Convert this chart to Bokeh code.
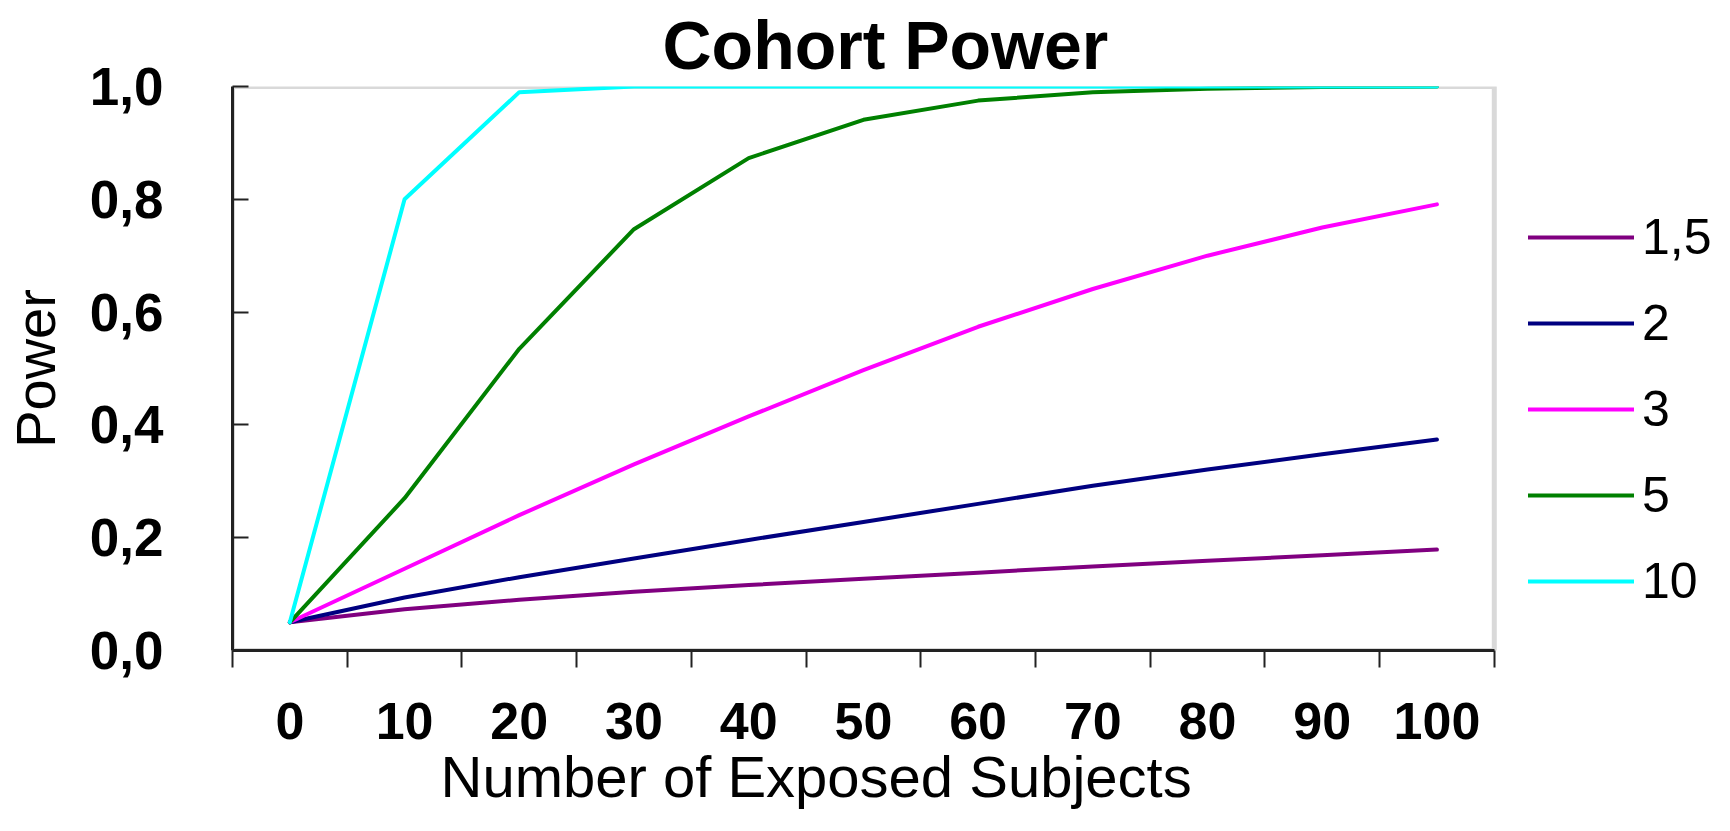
from bokeh.plotting import figure
from bokeh.models import (FixedTicker, CustomJSTickFormatter, Legend, LegendItem,
                          Title, Range1d, BoxAnnotation)
from bokeh.embed import file_html
from bokeh.resources import INLINE

# ---- data ----
subjects = [0, 10, 20, 30, 40, 50, 60, 70, 80, 90, 100]
tick_labels = ["0", "10", "20", "30", "40", "50", "60", "70", "80", "90", "100"]
series_names = ["1,5", "2", "3", "5", "10"]
power_rr_1_5 = [0.05, 0.073, 0.090, 0.104, 0.116, 0.127, 0.138, 0.149, 0.159, 0.169, 0.179]
power_rr_2 = [0.05, 0.094, 0.130, 0.163, 0.196, 0.228, 0.260, 0.292, 0.321, 0.348, 0.374]
power_rr_3 = [0.05, 0.145, 0.240, 0.330, 0.415, 0.497, 0.574, 0.641, 0.700, 0.750, 0.791]
power_rr_5 = [0.05, 0.270, 0.535, 0.747, 0.873, 0.941, 0.975, 0.990, 0.996, 0.999, 1.0]
power_rr_10 = [0.05, 0.800, 0.990, 1.0, 1.0, 1.0, 1.0, 1.0, 1.0, 1.0, 1.0]
series_values = [power_rr_1_5, power_rr_2, power_rr_3, power_rr_5, power_rr_10]
colors = ["#800080", "#000080", "#FF00FF", "#008000", "#00FFFF"]

FONT = "Liberation Sans"

# layout: the plot area (categories) takes PLOT_PX of the frame, the rest of
# the frame, on the right, holds the legend
W, H = 1714, 815
LEFT = 220
PLOT_PX = 1272
FRAME_PX = W - LEFT
x_start = subjects[0] - 5
x_stop = subjects[-1] + 5
x_end = x_start + (x_stop - x_start) * FRAME_PX / PLOT_PX

p = figure(width=W, height=H, output_backend="svg", toolbar_location=None,
           x_range=Range1d(x_start, x_end), y_range=Range1d(0, 1),
           min_border_left=LEFT, min_border_right=0, min_border_top=84,
           min_border_bottom=165, background_fill_color="white",
           border_fill_color="white")

p.title.text = "Cohort Power"
p.title.align = "left"
p.title.offset = 430
p.title.text_font = FONT
p.title.text_font_size = "68px"
p.title.text_font_style = "bold"
p.title.text_color = "black"
p.title.standoff = 8

p.outline_line_color = None
p.xgrid.visible = False
p.ygrid.visible = False

# gray border of the plot area (top and right sides show)
p.add_layout(BoxAnnotation(left=x_start, right=x_stop, bottom=0, top=1,
                           fill_alpha=0, line_color="#808080", line_width=5,
                           level="underlay"))

# x axis: labels at category centres, tick marks at category boundaries
boundaries = [s - 5 for s in subjects] + [subjects[-1] + 5]
xa = p.xaxis[0]
xa.bounds = (x_start, x_stop)
xa.ticker = FixedTicker(ticks=subjects, minor_ticks=boundaries)
xa.major_label_overrides = {s: l for s, l in zip(subjects, tick_labels)}
xa.major_tick_line_color = None
xa.major_tick_out = 0
xa.major_tick_in = 0
xa.minor_tick_out = 17
xa.minor_tick_in = 0
xa.minor_tick_line_width = 2
xa.minor_tick_line_color = "#222222"
xa.axis_line_color = "#222222"
xa.axis_line_width = 3
xa.major_label_standoff = 35
xa.major_label_text_font = FONT
xa.major_label_text_font_size = "52px"
xa.major_label_text_font_style = "bold"
xa.major_label_text_color = "black"
xa.major_label_text_line_height = 1.0

ya = p.yaxis[0]
ya.ticker = FixedTicker(ticks=[0, 0.2, 0.4, 0.6, 0.8, 1.0])
ya.formatter = CustomJSTickFormatter(code="return tick.toFixed(1).replace('.', ',');")
ya.minor_tick_line_color = None
ya.major_tick_in = 16
ya.major_tick_out = 0
ya.major_tick_line_width = 2
ya.major_tick_line_color = "#222222"
ya.axis_line_color = "#222222"
ya.axis_line_width = 3
ya.major_label_standoff = 69
ya.major_label_text_font = FONT
ya.major_label_text_font_size = "53px"
ya.major_label_text_font_style = "bold"
ya.major_label_text_color = "black"
ya.axis_label = "Power"
ya.axis_label_text_font = FONT
ya.axis_label_text_font_size = "56px"
ya.axis_label_text_font_style = "normal"
ya.axis_label_text_color = "black"
ya.axis_label_standoff = 20

p.add_layout(Title(text="Number of Exposed Subjects", align="left", offset=208,
                   text_font=FONT, text_font_size="58px", text_font_style="normal",
                   text_color="black", standoff=0), "below")

items = []
for name, vals, c in zip(series_names, series_values, colors):
    r = p.line(subjects, vals, line_color=c, line_width=4, line_join="round",
               line_cap="round")
    items.append(LegendItem(label=name, renderers=[r]))

legend = Legend(items=items, location=(PLOT_PX + 24, 39), border_line_color=None,
                background_fill_alpha=0, glyph_width=106, glyph_height=20,
                label_text_font=FONT, label_text_font_size="50px",
                label_text_color="black", label_height=60,
                label_standoff=8, spacing=26, padding=0, margin=0)
p.add_layout(legend, "center")

open("out.html", "w").write(file_html(p, INLINE))
